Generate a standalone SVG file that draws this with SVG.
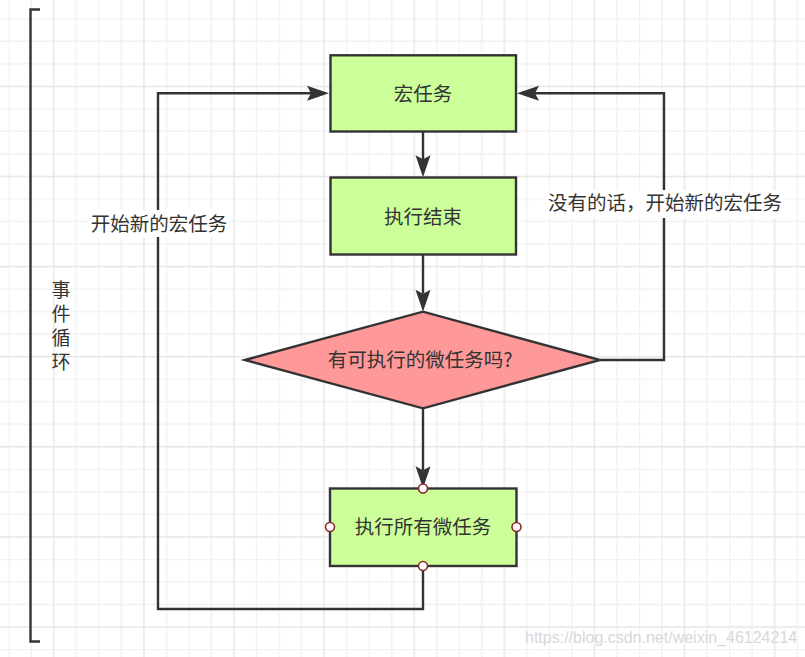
<svg xmlns="http://www.w3.org/2000/svg" width="805" height="657" viewBox="0 0 805 657">
<defs>
<pattern id="grid" patternUnits="userSpaceOnUse" x="8.3" y="18.3" width="90.1" height="90.1">
<path d="M0.5,0V90.1M23,0V90.1M68,0V90.1M0,0.5H90.1M0,23H90.1M0,45.5H90.1" stroke="#f1f1f1" stroke-width="1.4" fill="none"/>
<path d="M45.5,0V90.1M0,68H90.1" stroke="#e6e6e6" stroke-width="1.4" fill="none"/>
</pattern>
<marker id="arr" markerUnits="userSpaceOnUse" markerWidth="24" markerHeight="16" refX="4" refY="7.5" orient="auto" overflow="visible">
<path d="M0,0 L22,7.5 L0,15 L4,7.5 Z" fill="#333"/>
</marker>
<style>
.box{fill:#ccff99;stroke:#333;stroke-width:2.4}
.dia{fill:#ff9999;stroke:#333;stroke-width:2.4}
.ln{fill:none;stroke:#333;stroke-width:2.4}
.t{font-family:"Noto Sans CJK SC","Noto Sans",sans-serif;font-size:19.5px;fill:#333;text-anchor:middle}
.v{font-family:"Noto Sans CJK SC","Noto Sans",sans-serif;font-size:19px;fill:#333;writing-mode:vertical-rl;letter-spacing:5px}
.pt{fill:#fff;stroke:#8b2b2b;stroke-width:1.6}
.wm{font-family:"Liberation Sans",Arial,sans-serif;font-size:16px;fill:#d8d8d8}
</style>
</defs>
<rect width="805" height="657" fill="#fff"/>
<rect width="805" height="657" fill="url(#grid)"/>

<g id="bracket">
<path class="ln" d="M40,9.5 H30.5 V641.5 H40"/>
<text class="v" x="61" y="280">事件循环</text>
</g>

<g id="connectors">
<path class="ln" d="M423,131.5 V159.3" marker-end="url(#arr)"/>
<path class="ln" d="M423,254.5 V293.7" marker-end="url(#arr)"/>
<path class="ln" d="M423,408.3 V470.3" marker-end="url(#arr)"/>
<path class="ln" d="M423,566 V609 H158 V93.3 H311" marker-end="url(#arr)"/>
<path class="ln" d="M600,360 H664 V93.3 H535" marker-end="url(#arr)"/>
<g id="label-left">
<rect x="88" y="210" width="141" height="27" fill="#fff"/>
<text class="t" x="159" y="230.5">开始新的宏任务</text>
</g>
<g id="label-right">
<rect x="545" y="190" width="240" height="28" fill="#fff"/>
<text class="t" x="665" y="209.5">没有的话，开始新的宏任务</text>
</g>
</g>

<g id="macro">
<rect class="box" x="330.5" y="55.3" width="185.5" height="76.2"/>
<text class="t" x="423" y="100.5">宏任务</text>
</g>
<g id="done">
<rect class="box" x="330.5" y="177.5" width="185.5" height="77"/>
<text class="t" x="423" y="223.5">执行结束</text>
</g>
<g id="decision">
<polygon class="dia" points="245,360 423,311.7 600,360 423,408.3"/>
<text class="t" x="420" y="367">有可执行的微任务吗?</text>
</g>
<g id="micro">
<rect class="box" x="330" y="488.5" width="186.5" height="77.5"/>
<text class="t" x="423" y="534">执行所有微任务</text>
<circle class="pt" cx="423" cy="488.5" r="4.5"/>
<circle class="pt" cx="330" cy="527" r="4.5"/>
<circle class="pt" cx="516.5" cy="527" r="4.5"/>
<circle class="pt" cx="423" cy="566" r="4.5"/>
</g>

<text class="wm" x="525" y="643">https://blog.csdn.net/weixin_46124214</text>
</svg>
